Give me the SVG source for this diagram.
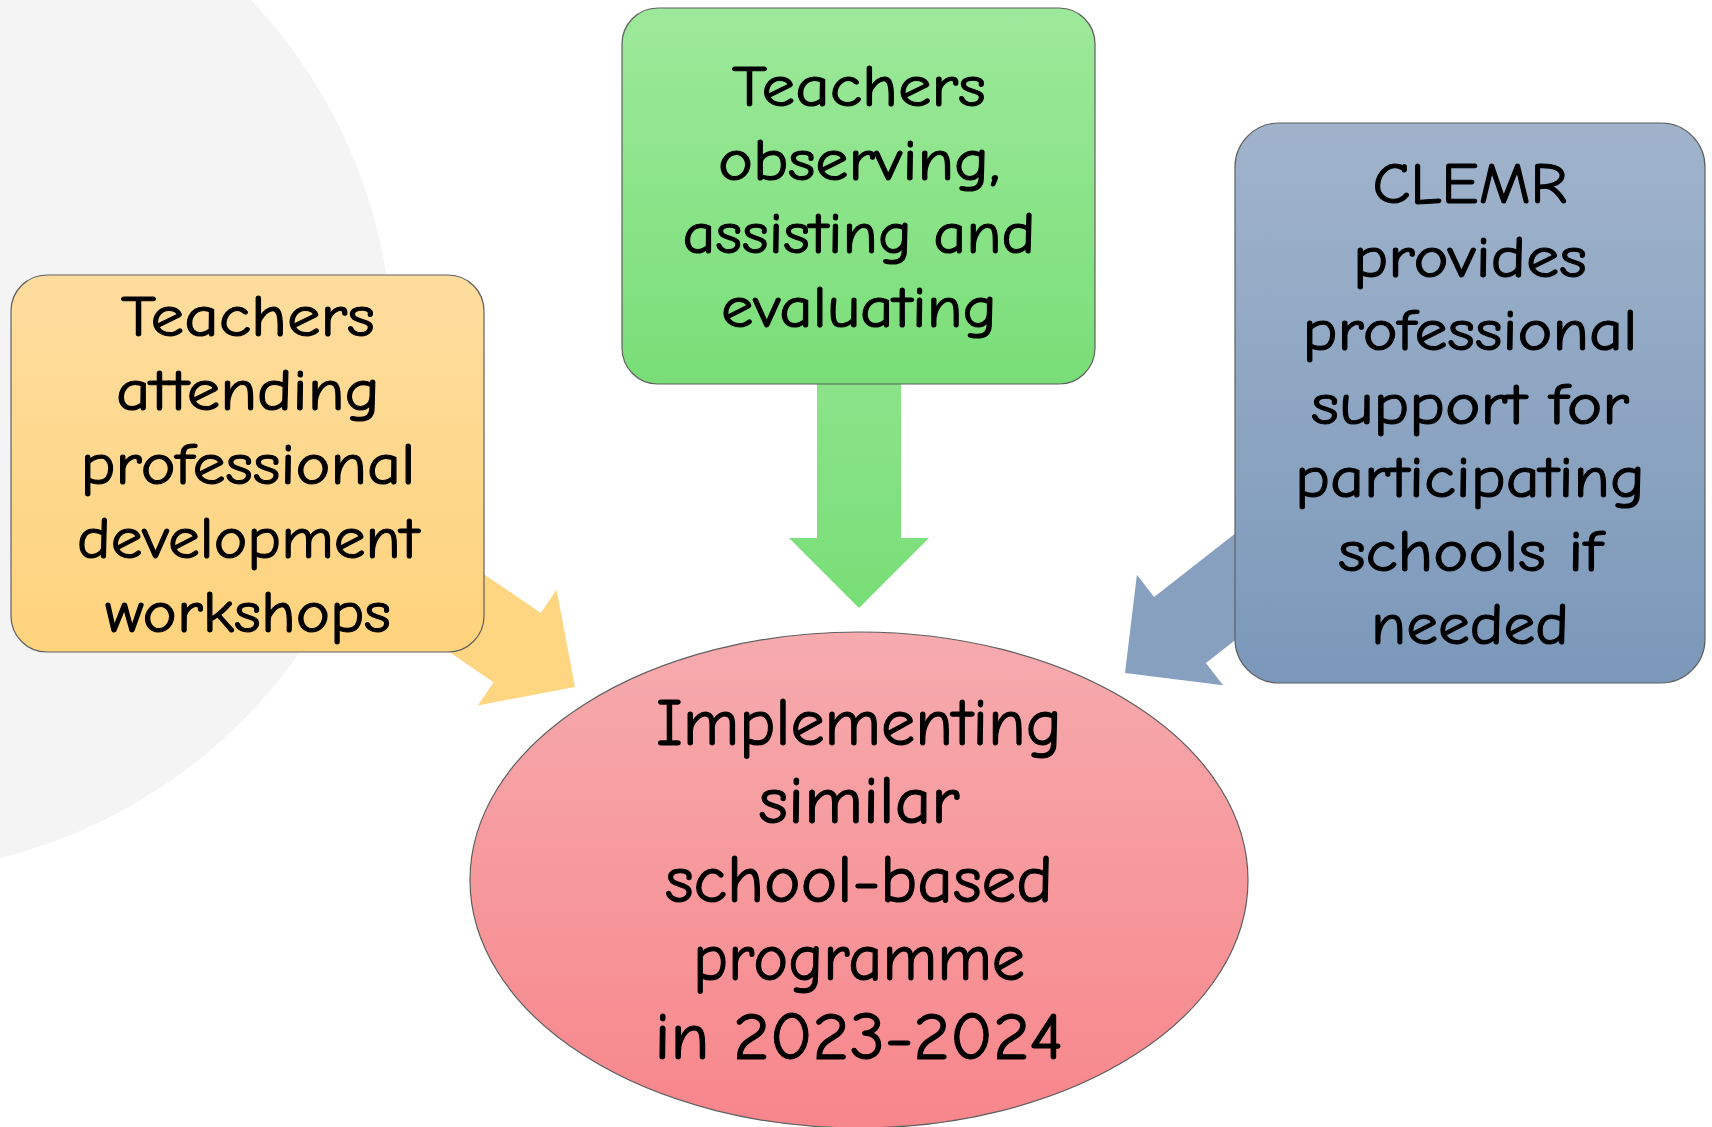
<svg xmlns="http://www.w3.org/2000/svg" width="1712" height="1127" viewBox="0 0 1712 1127">
<style>
.box{stroke:#5f5f5f;stroke-width:1.2}
.lbl{font-family:"Comic Sans MS","Comic Neue","DejaVu Sans",sans-serif;font-size:58px;fill:#000;stroke:#000;stroke-width:1.1;text-anchor:middle}
.big{font-size:66px}
</style>
<defs>
<linearGradient id="gO" x1="0" y1="0" x2="0" y2="1"><stop offset="0" stop-color="#fedd9e"/><stop offset="1" stop-color="#fed37d"/></linearGradient>
<linearGradient id="gG" x1="0" y1="0" x2="0" y2="1"><stop offset="0" stop-color="#9de99b"/><stop offset="1" stop-color="#79de77"/></linearGradient>
<linearGradient id="gB" x1="0" y1="0" x2="0" y2="1"><stop offset="0" stop-color="#a0b3cb"/><stop offset="1" stop-color="#7b98ba"/></linearGradient>
<linearGradient id="gR" x1="0" y1="0" x2="0" y2="1"><stop offset="0" stop-color="#f6abae"/><stop offset="1" stop-color="#f7868b"/></linearGradient>
<linearGradient id="gGa" x1="0" y1="0" x2="0" y2="1"><stop offset="0" stop-color="#8be38a"/><stop offset="1" stop-color="#79de77"/></linearGradient>
</defs>
<circle cx="-124" cy="356" r="517" fill="#f4f4f4"/>
<g id="connectors">
<polygon points="328.4,569.7 375.6,500.3 540.8,612.9 556.6,589.8 575,687 477.8,705.4 493.6,682.3" fill="#fed581"/>
<polygon points="817,380 901,380 901,538 929,538 859,608 789,538 817,538" fill="url(#gGa)"/>
<polygon points="1363.5,539.9 1311.7,473.7 1154.1,596.9 1136.9,574.8 1125,673 1223.1,685.2 1205.9,663.1" fill="#87a0c0"/>
</g>
<g id="node-workshops">
<rect class="box" x="11" y="275" width="473" height="377" rx="36" fill="url(#gO)"/>
<text class="lbl"><tspan x="248" y="336" textLength="254" lengthAdjust="spacingAndGlyphs">Teachers</tspan></text>
<text class="lbl"><tspan x="248" y="410" textLength="264" lengthAdjust="spacingAndGlyphs">attending</tspan></text>
<text class="lbl"><tspan x="248" y="484" textLength="335" lengthAdjust="spacingAndGlyphs">professional</tspan></text>
<text class="lbl"><tspan x="248" y="558" textLength="342" lengthAdjust="spacingAndGlyphs">development</tspan></text>
<text class="lbl"><tspan x="248" y="632" textLength="286" lengthAdjust="spacingAndGlyphs">workshops</tspan></text>
</g>
<g id="node-observing">
<rect class="box" x="622" y="8" width="473" height="376" rx="36" fill="url(#gG)"/>
<text class="lbl"><tspan x="859" y="106" textLength="254" lengthAdjust="spacingAndGlyphs">Teachers</tspan></text>
<text class="lbl"><tspan x="859" y="180" textLength="282" lengthAdjust="spacingAndGlyphs">observing,</tspan></text>
<text class="lbl"><tspan x="859" y="253" textLength="353" lengthAdjust="spacingAndGlyphs">assisting and</tspan></text>
<text class="lbl"><tspan x="859" y="327" textLength="276" lengthAdjust="spacingAndGlyphs">evaluating</tspan></text>
</g>
<g id="node-clemr">
<rect class="box" x="1235" y="123" width="470" height="560" rx="44" fill="url(#gB)"/>
<text class="lbl"><tspan x="1470" y="203" textLength="195" lengthAdjust="spacingAndGlyphs">CLEMR</tspan></text>
<text class="lbl"><tspan x="1470" y="276.5" textLength="234" lengthAdjust="spacingAndGlyphs">provides</tspan></text>
<text class="lbl"><tspan x="1470" y="350" textLength="335" lengthAdjust="spacingAndGlyphs">professional</tspan></text>
<text class="lbl"><tspan x="1470" y="423.5" textLength="318" lengthAdjust="spacingAndGlyphs">support for</tspan></text>
<text class="lbl"><tspan x="1470" y="497" textLength="350" lengthAdjust="spacingAndGlyphs">participating</tspan></text>
<text class="lbl"><tspan x="1470" y="570.5" textLength="264" lengthAdjust="spacingAndGlyphs">schools if</tspan></text>
<text class="lbl"><tspan x="1470" y="644" textLength="198" lengthAdjust="spacingAndGlyphs">needed</tspan></text>
</g>
<g id="node-implementing">
<ellipse class="box" cx="859" cy="880" rx="389" ry="248" fill="url(#gR)"/>
<text class="lbl big"><tspan x="859" y="745" textLength="406" lengthAdjust="spacingAndGlyphs">Implementing</tspan></text>
<text class="lbl big"><tspan x="859" y="823" textLength="201" lengthAdjust="spacingAndGlyphs">similar</tspan></text>
<text class="lbl big"><tspan x="859" y="902" textLength="388" lengthAdjust="spacingAndGlyphs">school-based</tspan></text>
<text class="lbl big"><tspan x="859" y="980" textLength="332" lengthAdjust="spacingAndGlyphs">programme</tspan></text>
<text class="lbl big"><tspan x="859" y="1059" textLength="409" lengthAdjust="spacingAndGlyphs">in 2023-2024</tspan></text>
</g>
</svg>
